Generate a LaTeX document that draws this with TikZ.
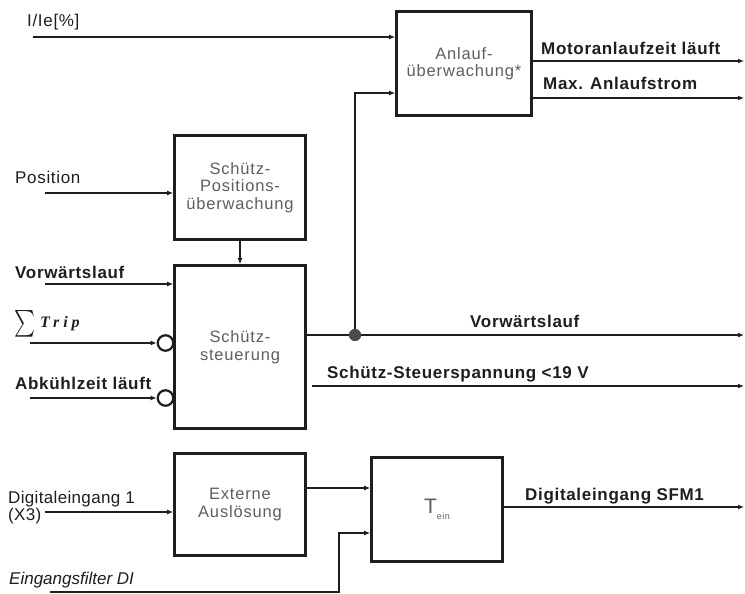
\documentclass[tikz,border=0pt]{standalone}
\usepackage{fontspec}
\setmainfont{Liberation Sans}
\newfontfamily\serifbi{Liberation Serif}[BoldItalicFont={* Bold Italic}]
\usetikzlibrary{arrows.meta}
\definecolor{ink}{RGB}{30,30,30}
\definecolor{boxtext}{RGB}{95,95,95}
\tikzset{
  blk/.style={draw=ink, line width=2.6pt, fill=white, align=center, text=boxtext,
    font=\fontsize{16.5}{17.5}\selectfont\addfontfeatures{LetterSpace=5}, inner sep=0pt},
  arr/.style={draw=ink, line width=1.4pt, -{Latex[length=6pt,width=5pt]}},
  lbl/.style={anchor=base west, text=ink, inner sep=0pt, font=\fontsize{17}{19}\selectfont\addfontfeatures{LetterSpace=4}},
  blbl/.style={anchor=base west, text=ink, inner sep=0pt, font=\fontsize{17}{19}\selectfont\bfseries\addfontfeatures{LetterSpace=4}},
  inv/.style={circle, draw=ink, line width=2.2pt, fill=white, minimum size=15.5pt, inner sep=0pt},
  dot/.style={circle, fill=ink!80, minimum size=12pt, inner sep=0pt}
}
\begin{document}
\begin{tikzpicture}[x=1pt,y=-1pt]
\useasboundingbox (0,0) rectangle (745,594);
% boxes
\node[blk, minimum width=135pt, minimum height=104pt] (anl) at (464,63.5) {Anlauf-\\überwachung*};
\node[blk, minimum width=131pt, minimum height=104pt] (pos) at (240,187.5) {Schütz-\\Positions-\\überwachung};
\node[blk, minimum width=131pt, minimum height=163pt] (ctl) at (240,347) {Schütz-\\steuerung};
\node[blk, minimum width=131pt, minimum height=102pt] (ext) at (240,504.5) {Externe\\Auslösung};
\node[blk, minimum width=131pt, minimum height=104pt] (tein) at (437,509.5) {\fontsize{21}{21}\selectfont T\raisebox{-6pt}{\fontsize{9}{9}\selectfont ein}};
% inverting circles
\node[inv] (c1) at (165.5,343) {};
\node[inv] (c2) at (165.5,398) {};
% junction dot
\node[dot] (j) at (355,335) {};
% free ends
\coordinate (iin) at (33,37);
\coordinate (posin) at (45,193);
\coordinate (vin) at (45,284);
\coordinate (tin) at (30,343);
\coordinate (ain) at (30,398);
\coordinate (din) at (45,512);
\coordinate (fin) at (50,592);
\coordinate (fcor) at (339,592);
\coordinate (ssin) at (312,386);
\coordinate (o1) at (744,61);
\coordinate (o2) at (744,98);
\coordinate (o3) at (744,335);
\coordinate (o4) at (744,386);
\coordinate (o5) at (744,507);
% connectors
\draw[arr] (iin) -- (iin -| anl.west);
\draw[arr] (j.center) -- (355,93) -- (anl.west |- 0,93);
\draw[arr] (anl.east |- o1) -- (o1);
\draw[arr] (anl.east |- o2) -- (o2);
\draw[arr] (posin) -- (posin -| pos.west);
\draw[arr] (pos.south) -- (ctl.north);
\draw[arr] (vin) -- (vin -| ctl.west);
\draw[arr] (tin) -- (c1.west);
\draw[arr] (ain) -- (c2.west);
\draw[arr] (ctl.east |- o3) -- (o3);
\draw[arr] (ssin) -- (o4);
\draw[arr] (din) -- (din -| ext.west);
\draw[arr] (ext.east |- 0,488) -- (tein.west |- 0,488);
\draw[arr] (fin) -- (fcor) -- (339,533) -- (tein.west |- 0,533);
\draw[arr] (tein.east |- o5) -- (o5);
\node[dot] at (j) {};
% labels
\node[lbl] (l1) at (27,27) {I/Ie[\%]};
\node[lbl] (l2) at (15,183) {Position};
\node[blbl] (l3) at (15,278) {Vorwärtslauf};
\node[anchor=south west, inner sep=0pt, text=ink] (l4) at (14,337) {\resizebox{21pt}{20pt}{$\sum$}};
\node[anchor=base west, inner sep=0pt, text=ink] (l4b) at (40,327) {\serifbi\fontsize{16}{16}\selectfont\bfseries\itshape\addfontfeatures{LetterSpace=24}Trip};
\node[blbl] (l5) at (15,389) {Abkühlzeit läuft};
\node[lbl, font=\fontsize{17}{19}\selectfont\addfontfeatures{LetterSpace=2}] (l6) at (8,503) {Digitaleingang 1};
\node[lbl, font=\fontsize{17}{19}\selectfont\addfontfeatures{LetterSpace=2}] (l7) at (8,520) {(X3)};
\node[lbl, font=\fontsize{17}{19}\selectfont\itshape] (l8) at (9,584) {Eingangsfilter DI};
\node[blbl] (l9) at (541,55) {Motoranlaufzeit läuft};
\node[blbl] (l10) at (543,90) {Max. Anlaufstrom};
\node[blbl] (l11) at (470,327) {Vorwärtslauf};
\node[blbl] (l12) at (327,378) {Schütz-Steuerspannung <19 V};
\node[blbl] (l13) at (525,500) {Digitaleingang SFM1};
\end{tikzpicture}
\end{document}
